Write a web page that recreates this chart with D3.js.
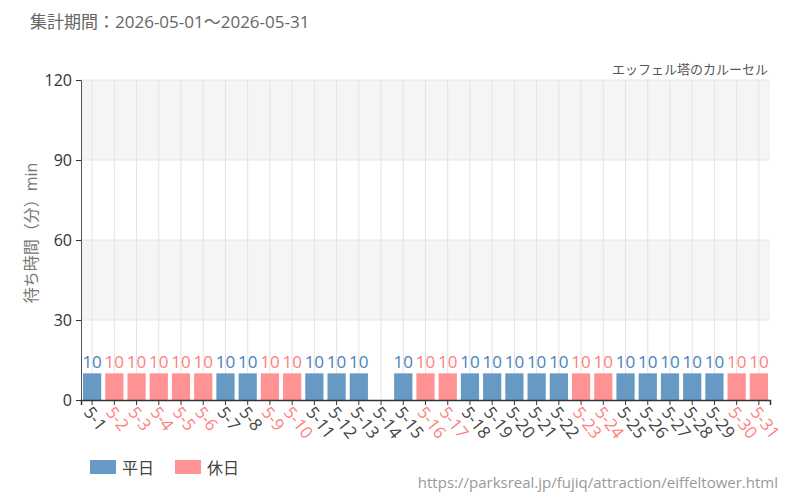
<!DOCTYPE html>
<html>
<head>
<meta charset="utf-8">
<script src="https://cdn.jsdelivr.net/npm/d3@7/dist/d3.min.js"></script>
<style>
    body { margin: 0; background: #fff; }
    svg text { font-family: "Open Sans", "Noto Sans CJK JP", sans-serif; }
</style>
</head>
<body>
<svg width="800" height="500"></svg>
<script>
/*global d3 */

var days = [
    "5-1", "5-2", "5-3", "5-4", "5-5", "5-6", "5-7", "5-8", "5-9", "5-10",
    "5-11", "5-12", "5-13", "5-14", "5-15", "5-16", "5-17", "5-18", "5-19",
    "5-20", "5-21", "5-22", "5-23", "5-24", "5-25", "5-26", "5-27", "5-28",
    "5-29", "5-30", "5-31"
];
var waits = [
    10, 10, 10, 10, 10, 10, 10, 10, 10, 10,
    10, 10, 10, null, 10, 10, 10, 10, 10,
    10, 10, 10, 10, 10, 10, 10, 10, 10,
    10, 10, 10
];
var holidays = [
    "5-2", "5-3", "5-4", "5-5", "5-6", "5-9", "5-10", "5-16", "5-17",
    "5-23", "5-24", "5-30", "5-31"
];
var yTicks = [0, 30, 60, 90, 120];
var legendItems = ["平日", "休日"];

var colors = {
    weekday: "#6699c4",
    holiday: "#ff9393",
    weekdayText: "#4a82bb",
    holidayText: "#ff7f7f"
};

var margin = {
    top: 80, // px
    left: 81, // px
    bottom: 100, // px
    right: 30 // px
};
var svg = d3.select("svg");
var width = 800 - margin.left - margin.right;
var height = 500 - margin.top - margin.bottom;

var isHoliday = function (d) {
    return holidays.indexOf(d) >= 0;
};

var xScale = d3.scaleBand()
    .domain(days)
    .range([0, width])
    .paddingInner(0.18)
    .paddingOuter(0.09);
var yScale = d3.scaleLinear()
    .domain([0, 120])
    .range([height, 0]);

var main = svg.append("g")
    .attr("transform", "translate(" + margin.left + "," + margin.top + ")");

// alternating background bands
d3.range(yTicks.length - 1).forEach(function (i) {
    if (i % 2 === 1) {
        main.append("rect")
            .attr("x", 0)
            .attr("y", yScale(yTicks[i + 1]))
            .attr("width", width)
            .attr("height", yScale(yTicks[i]) - yScale(yTicks[i + 1]))
            .attr("fill", "#f5f5f5");
    }
});

// horizontal grid
main.selectAll("line.hgrid")
    .data(yTicks.slice(1))
    .enter()
    .append("line")
    .attr("class", "hgrid")
    .attr("x1", 0)
    .attr("x2", width)
    .attr("y1", yScale)
    .attr("y2", yScale)
    .attr("stroke", "#e6e6e6");

// vertical grid at band centres
main.selectAll("line.vgrid")
    .data(days)
    .enter()
    .append("line")
    .attr("class", "vgrid")
    .attr("x1", function (d) {
        return xScale(d) + xScale.bandwidth() / 2;
    })
    .attr("x2", function (d) {
        return xScale(d) + xScale.bandwidth() / 2;
    })
    .attr("y1", 0)
    .attr("y2", height)
    .attr("stroke", "#e3e3e3");

var rows = days.map(function (d, i) {
    return {day: d, value: waits[i]};
}).filter(function (r) {
    return r.value !== null;
});

main.selectAll("rect.bar")
    .data(rows)
    .enter()
    .append("rect")
    .attr("class", "bar")
    .attr("x", function (r) {
        return xScale(r.day);
    })
    .attr("y", function (r) {
        return yScale(r.value);
    })
    .attr("width", xScale.bandwidth())
    .attr("height", function (r) {
        return height - yScale(r.value);
    })
    .attr("fill", function (r) {
        return isHoliday(r.day) ? colors.holiday : colors.weekday;
    });

main.selectAll("text.val")
    .data(rows)
    .enter()
    .append("text")
    .attr("class", "val")
    .attr("x", function (r) {
        return xScale(r.day) + xScale.bandwidth() / 2;
    })
    .attr("y", function (r) {
        return yScale(r.value) - 5;
    })
    .attr("text-anchor", "middle")
    .attr("font-size", 17)
    .attr("fill", function (r) {
        return isHoliday(r.day) ? colors.holidayText : colors.weekdayText;
    })
    .text(function (r) {
        return r.value;
    });

// axes
var yAxis = d3.axisLeft(yScale).tickValues(yTicks).tickSize(5)
    .tickPadding(4);
var yAxisGroup = main.append("g").call(yAxis);
yAxisGroup.select(".domain").attr("stroke", "#555");
yAxisGroup.selectAll(".tick line").attr("stroke", "#333");
yAxisGroup.selectAll(".tick text")
    .attr("font-size", 16)
    .attr("fill", "#333")
    .style("font-family", "'Open Sans', sans-serif");

var xAxis = d3.axisBottom(xScale).tickSize(5).tickPadding(4);
var xAxisGroup = main.append("g")
    .attr("transform", "translate(0," + height + ")")
    .call(xAxis);
xAxisGroup.select(".domain").attr("stroke", "#333").attr("stroke-width", 1.5);
xAxisGroup.selectAll(".tick line").attr("stroke", "#333");
xAxisGroup.selectAll(".tick text")
    .attr("font-size", 17)
    .attr("text-anchor", "start")
    .attr("dy", "0")
    .attr("transform", "translate(-2,7) rotate(52)")
    .attr("fill", function (d) {
        return isHoliday(d) ? colors.holidayText : "#444";
    })
    .style("font-family", "'Open Sans', sans-serif");

// y label
svg.append("text")
    .attr("transform", "translate(37,233) rotate(-90)")
    .attr("text-anchor", "middle")
    .attr("font-size", 16)
    .attr("fill", "#777")
    .text("待ち時間（分）min");

// titles
svg.append("text")
    .attr("x", 30)
    .attr("y", 28)
    .attr("font-size", 17)
    .attr("fill", "#666")
    .text("集計期間：2026-05-01～2026-05-31");

svg.append("text")
    .attr("x", 768)
    .attr("y", 74)
    .attr("text-anchor", "end")
    .attr("font-size", 13)
    .attr("fill", "#555")
    .text("エッフェル塔のカルーセル");

svg.append("text")
    .attr("x", 778)
    .attr("y", 488)
    .attr("text-anchor", "end")
    .attr("font-size", 15)
    .attr("fill", "#999")
    .text("https://parksreal.jp/fujiq/attraction/eiffeltower.html");

// legend
var legend = svg.append("g")
    .attr("transform", "translate(90,460)");
legendItems.forEach(function (name, i) {
    var g = legend.append("g")
        .attr("transform", "translate(" + (i * 85) + ",0)");
    g.append("rect")
        .attr("width", 26)
        .attr("height", 14)
        .attr("fill", i === 0 ? colors.weekday : colors.holiday);
    g.append("text")
        .attr("x", 32)
        .attr("y", 14)
        .attr("font-size", 16)
        .attr("fill", "#444")
        .text(name);
});
</script>
</body>
</html>
